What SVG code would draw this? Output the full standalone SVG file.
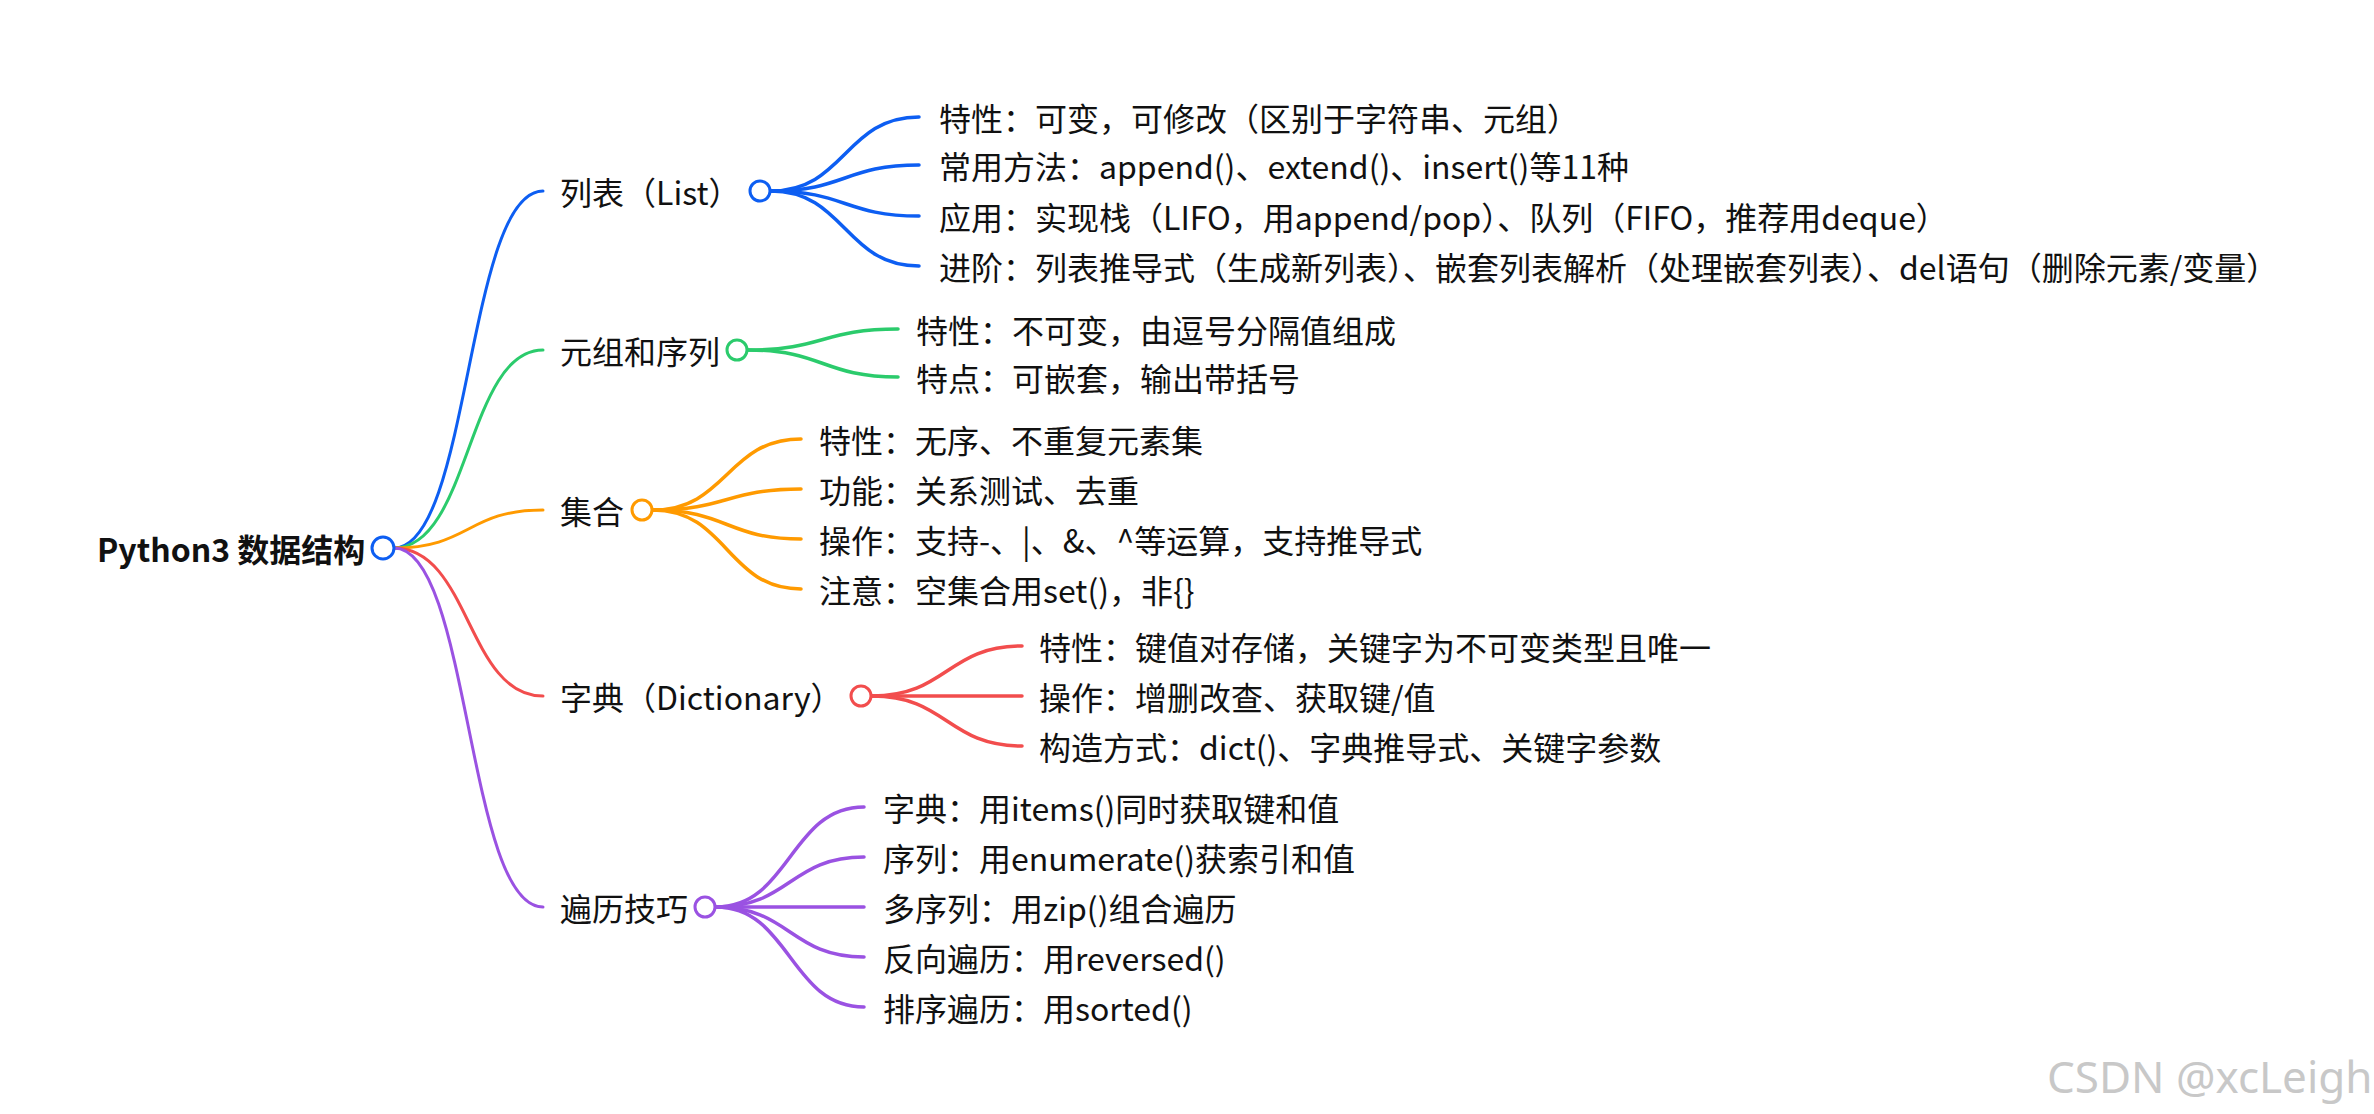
<svg xmlns="http://www.w3.org/2000/svg" width="2374" height="1114" viewBox="0 0 2374 1114">
<style>
text{font-family:"Noto Sans CJK SC","Noto Sans",sans-serif;font-size:32px;fill:#111;dominant-baseline:central}
.root{font-weight:bold}
path{fill:none;stroke-linecap:round}
.l1{stroke-width:3}
.l2{stroke-width:3.5}
circle{fill:#fff;stroke-width:3}
.b{stroke:#0d5ef2}.g{stroke:#2bcb6c}.o{stroke:#ff9a00}.r{stroke:#f24d4d}.p{stroke:#9a52e2}
.wm{fill:#c8c8c8;font-family:"Noto Sans","Liberation Sans",sans-serif;font-size:44px}
</style>
<rect width="2374" height="1114" fill="#fff"/>
<g id="connectors">
<path class="l1 b" d="M394 548 C470 548 467 191 543 191"/>
<path class="l1 g" d="M394 548 C470 548 467 350 543 350"/>
<path class="l1 o" d="M394 548 C470 548 467 510 543 510"/>
<path class="l1 r" d="M394 548 C470 548 467 696 543 696"/>
<path class="l1 p" d="M394 548 C470 548 467 907 543 907"/>
<path class="l2 b" d="M771 191 C845 191 845 117 919 117"/>
<path class="l2 b" d="M771 191 C845 191 845 165 919 165"/>
<path class="l2 b" d="M771 191 C845 191 845 216 919 216"/>
<path class="l2 b" d="M771 191 C845 191 845 266 919 266"/>
<path class="l2 g" d="M748 350 C823 350 823 329 898 329"/>
<path class="l2 g" d="M748 350 C823 350 823 377 898 377"/>
<path class="l2 o" d="M653 510 C727 510 727 439 801 439"/>
<path class="l2 o" d="M653 510 C727 510 727 489 801 489"/>
<path class="l2 o" d="M653 510 C727 510 727 539 801 539"/>
<path class="l2 o" d="M653 510 C727 510 727 589 801 589"/>
<path class="l2 r" d="M872 696 C947 696 947 646 1022 646"/>
<path class="l2 r" d="M872 696 L1022 696"/>
<path class="l2 r" d="M872 696 C947 696 947 746 1022 746"/>
<path class="l2 p" d="M716 907 C790 907 790 807 864 807"/>
<path class="l2 p" d="M716 907 C790 907 790 857 864 857"/>
<path class="l2 p" d="M716 907 L864 907"/>
<path class="l2 p" d="M716 907 C790 907 790 957 864 957"/>
<path class="l2 p" d="M716 907 C790 907 790 1007 864 1007"/>
</g>
<g id="root"><text class="root" x="97" y="548">Python3 数据结构</text><circle class="b" cx="383" cy="548" r="11"/></g>
<g id="list"><text x="560" y="191">列表（List）</text><circle class="b" cx="760" cy="191" r="10"/></g>
<g id="list-1"><text x="939" y="117">特性：可变，可修改（区别于字符串、元组）</text></g>
<g id="list-2"><text x="939" y="165">常用方法：append()、extend()、insert()等11种</text></g>
<g id="list-3"><text x="939" y="216">应用：实现栈（LIFO，用append/pop）、队列（FIFO，推荐用deque）</text></g>
<g id="list-4"><text x="939" y="266">进阶：列表推导式（生成新列表）、嵌套列表解析（处理嵌套列表）、del语句（删除元素/变量）</text></g>
<g id="tuple"><text x="560" y="350">元组和序列</text><circle class="g" cx="737" cy="350" r="10"/></g>
<g id="tuple-1"><text x="916" y="329">特性：不可变，由逗号分隔值组成</text></g>
<g id="tuple-2"><text x="916" y="377">特点：可嵌套，输出带括号</text></g>
<g id="set"><text x="560" y="510">集合</text><circle class="o" cx="642" cy="510" r="10"/></g>
<g id="set-1"><text x="819" y="439">特性：无序、不重复元素集</text></g>
<g id="set-2"><text x="819" y="489">功能：关系测试、去重</text></g>
<g id="set-3"><text x="819" y="539">操作：支持-、|、&amp;、^等运算，支持推导式</text></g>
<g id="set-4"><text x="819" y="589">注意：空集合用set()，非{}</text></g>
<g id="dict"><text x="560" y="696">字典（Dictionary）</text><circle class="r" cx="861" cy="696" r="10"/></g>
<g id="dict-1"><text x="1039" y="646">特性：键值对存储，关键字为不可变类型且唯一</text></g>
<g id="dict-2"><text x="1039" y="696">操作：增删改查、获取键/值</text></g>
<g id="dict-3"><text x="1039" y="746">构造方式：dict()、字典推导式、关键字参数</text></g>
<g id="loop"><text x="560" y="907">遍历技巧</text><circle class="p" cx="705" cy="907" r="10"/></g>
<g id="loop-1"><text x="883" y="807">字典：用items()同时获取键和值</text></g>
<g id="loop-2"><text x="883" y="857">序列：用enumerate()获索引和值</text></g>
<g id="loop-3"><text x="883" y="907">多序列：用zip()组合遍历</text></g>
<g id="loop-4"><text x="883" y="957">反向遍历：用reversed()</text></g>
<g id="loop-5"><text x="883" y="1007">排序遍历：用sorted()</text></g>
<text class="wm" x="2047" y="1076">CSDN @xcLeigh</text>
</svg>
